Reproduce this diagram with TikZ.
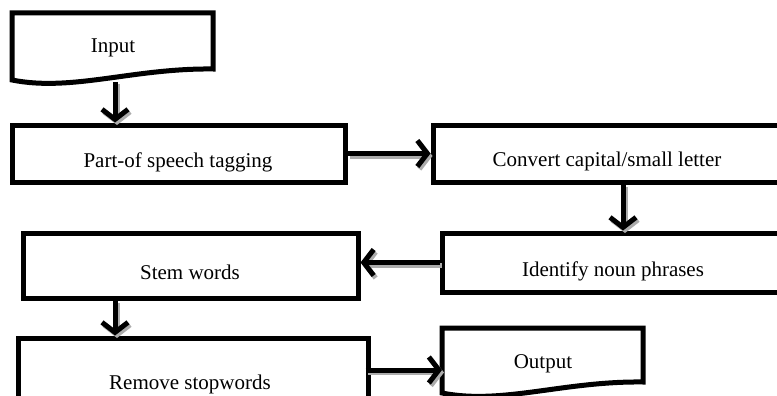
\documentclass[tikz,border=0pt]{standalone}
\usepackage{fontspec}
\setmainfont{Liberation Serif}
\usetikzlibrary{arrows.meta}
\newcommand\myconnectors[1]{%
  \draw[arr,#1] ([yshift=-2pt]ax1 |- input.south) -- (ax1 |- part.north);
  \draw[arr,#1] (part.east) -- (part.east -| convert.west);
  \draw[arr,#1] (ax2 |- convert.south) -- (ax2 |- identify.north);
  \draw[arr,#1] (identify.west) -- (identify.west -| stem.east);
  \draw[arr,#1] (ax1 |- stem.south) -- (ax1 |- remove.north);
  \draw[arr,#1] ([xshift=-5pt]remove.east |- ay1) -- (output.west |- ay1);
}
\begin{document}
\begin{tikzpicture}[x=1pt,y=-1pt,
  box/.style={draw=black, line width=5pt, rectangle, inner sep=0pt, fill=white},
  docbox/.style={draw=none, rectangle, inner sep=0pt, outer sep=0pt},
  docline/.style={draw=black, line width=5pt, line join=miter, fill=white},
  lbl/.style={font=\fontsize{21}{24}\selectfont, inner sep=0pt},
  arr/.style={line width=5pt, -{Straight Barb[length=10pt,width=26pt]}},
  arrshadow/.style={draw=gray!65}]
\useasboundingbox (0,0) rectangle (777,396);
\clip (0,0) rectangle (777,396);
\fill[white] (0,0) rectangle (777,396);

% Input (document shape)
\node[docbox, minimum width=201pt, minimum height=67pt] (input) at (112.5,46.5) {};
\draw[docline] (input.south west) -- (input.north west) -- (input.north east)
  -- ([yshift=11pt]input.south east)
  .. controls ([xshift=-80pt,yshift=12pt]input.south east) and ([xshift=60pt,yshift=-12pt]input.south west)
  .. (input.south west) -- cycle;
\node[lbl] (inputT) at (113,48) {Input};

% Process boxes
\node[box, minimum width=333pt, minimum height=57pt] (part) at (178.5,153.5) {};
\node[lbl] (partT) at (178,162) {Part-of speech tagging};

\node[box, minimum width=357pt, minimum height=57pt] (convert) at (611.5,153.5) {};
\node[lbl] (convertT) at (607,161) {Convert capital/small letter};

\node[box, minimum width=348pt, minimum height=59pt] (identify) at (616,262.5) {};
\node[lbl] (identifyT) at (613,271) {Identify noun phrases};

\node[box, minimum width=335pt, minimum height=65pt] (stem) at (190.5,265.5) {};
\node[lbl] (stemT) at (190,272) {Stem words};

\node[box, minimum width=350pt, minimum height=102pt] (remove) at (193,389) {};
\node[lbl] (removeT) at (190,384) {Remove stopwords};

% Output (document shape)
\node[docbox, minimum width=201pt, minimum height=65pt] (output) at (542.5,360.5) {};
\draw[docline] (output.south west) -- (output.north west) -- (output.north east)
  -- ([yshift=11pt]output.south east)
  .. controls ([xshift=-80pt,yshift=12pt]output.south east) and ([xshift=60pt,yshift=-12pt]output.south west)
  .. (output.south west) -- cycle;
\node[lbl] (outputT) at (543,364) {Output};

% Connectors: gray shadow, then black
\coordinate (ax1) at (115,0);
\coordinate (ax2) at (623,0);
\coordinate (ay1) at (0,370);
\begin{scope}[transform canvas={xshift=2pt,yshift=-2.5pt}]
  \myconnectors{arrshadow}
\end{scope}
\myconnectors{draw=black}
\end{tikzpicture}
\end{document}
